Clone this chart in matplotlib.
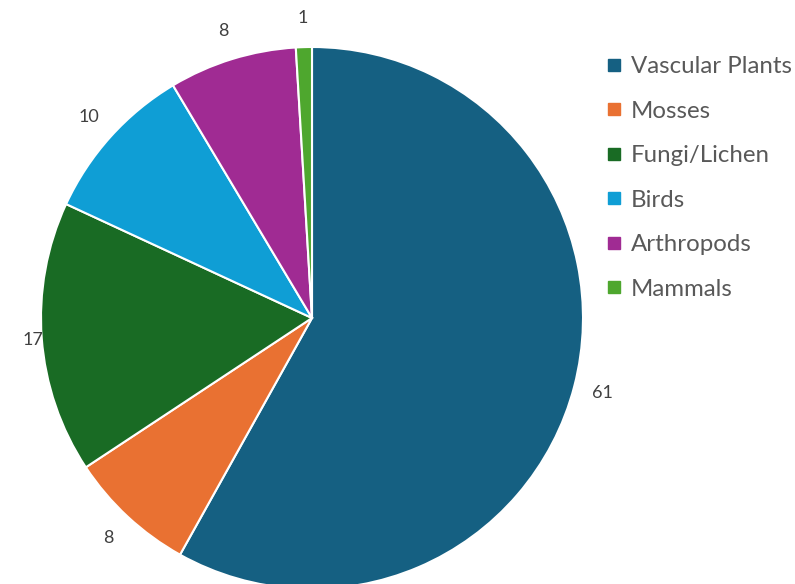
import matplotlib
matplotlib.use("Agg")
import matplotlib.pyplot as plt
from matplotlib.lines import Line2D
import numpy as np

categories = ["Vascular Plants", "Mosses", "Fungi/Lichen", "Birds", "Arthropods", "Mammals"]
values = [61, 8, 17, 10, 8, 1]
colors = ["#156082", "#E97132", "#196B24", "#0F9ED5", "#A02B93", "#4EA72E"]

plt.rcParams['font.family'] = ['Lato', 'DejaVu Sans']

W, H = 795, 584
fig = plt.figure(figsize=(W / 100, H / 100), dpi=100)
cx, cy, r = 312, 318, 271
ax = fig.add_axes([(cx - r) / W, (H - cy - r) / H, 2 * r / W, 2 * r / H])

wedges, texts = ax.pie(values, colors=colors, startangle=90, counterclock=False,
                       radius=1, labels=[str(v) for v in values], labeldistance=1.107,
                       wedgeprops=dict(edgecolor='white', linewidth=1.5),
                       textprops=dict(color='#404040', fontsize=13))
ax.set_aspect('auto')
ax.set_xlim(-1, 1)
ax.set_ylim(-1, 1)
ax.axis('off')
for w in wedges:
    w.set_clip_on(False)
for w, t in zip(wedges, texts):
    t.set_ha('center')
    t.set_va('center')
    ang = np.deg2rad((w.theta1 + w.theta2) / 2)
    x, y = 1.107 * np.cos(ang), 1.107 * np.sin(ang)
    if x < -1.03:
        x = -1.03
    t.set_position((x, y))

handles = [Line2D([0], [0], marker='s', linestyle='none', markersize=9,
                  markerfacecolor=c, markeredgecolor=c) for c in colors]
fig.legend(handles, categories, loc='upper left', bbox_to_anchor=(590 / W, 1 - 44 / H),
           frameon=False, fontsize=17.3, labelcolor='#595959', handletextpad=0.2,
           labelspacing=0.98, handlelength=1.0, borderpad=0)

fig.savefig("out.png", dpi=100)
